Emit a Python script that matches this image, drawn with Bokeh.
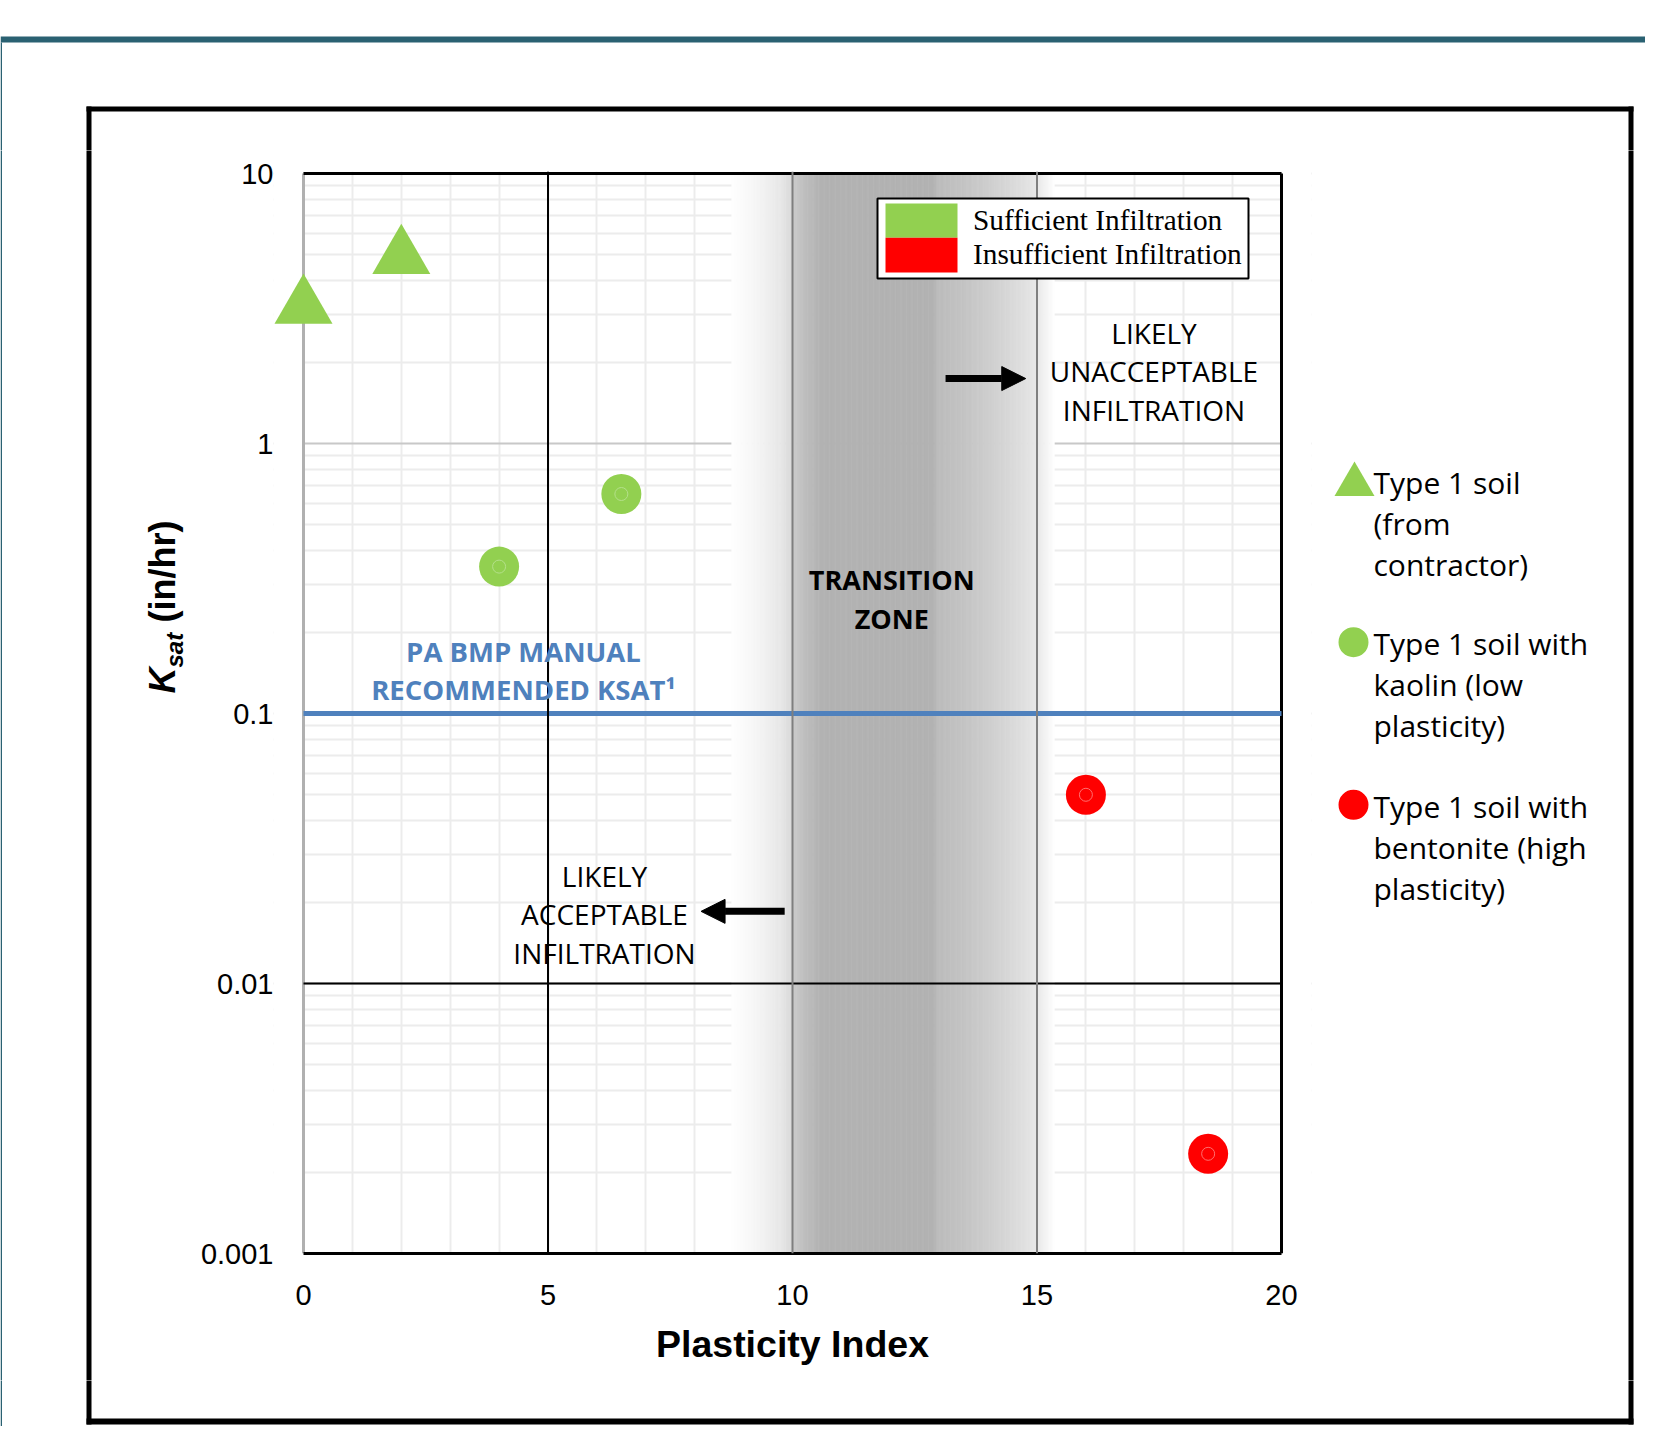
import math
import numpy as np
from bokeh.plotting import figure
from bokeh.layouts import column, row
from bokeh.models import (Range1d, FixedTicker, PrintfTickFormatter, Span, Label,
                          BoxAnnotation, Arrow, NormalHead)
from bokeh.embed import file_html
from bokeh.resources import INLINE

# ---------------- data ----------------
type1_pi = [0, 2]
type1_ksat = [3.2, 4.9]
kaolin_pi = [4, 6.5]
kaolin_ksat = [0.35, 0.65]
bentonite_pi = [16, 18.5]
bentonite_ksat = [0.05, 0.00234]

series_lines = [
    ["Type 1 soil", "(from", "contractor)"],
    ["Type 1 soil with", "kaolin (low", "plasticity)"],
    ["Type 1 soil with", "bentonite (high", "plasticity)"],
]
infil_labels = ["Sufficient Infiltration", "Insufficient Infiltration"]

x_ticks = [0, 5, 10, 15, 20]
x_minor = list(range(0, 21))
y_ticks = [0.001, 0.01, 0.1, 1, 10]
y_minor = [m * 10.0 ** e for e in range(-3, 1) for m in range(2, 10)]

ksat_recommended = 0.1
transition_from, transition_to = 10, 15

# arrows (data coords)
arrow_right_x = [13.13, 14.77]
arrow_right_y = 1.74
arrow_left_x = [9.84, 8.13]
arrow_left_y = 0.0185

# ---------------- style ----------------
GREEN = "#92d050"
RED = "#ff0000"
BLUE = "#4f81bd"
TEAL = "#2a6172"

zone_stop_x = [8.75, 9.25, 9.75, 9.99, 10.0, 10.25, 10.6, 12.9, 12.95, 13.5, 14.0, 14.5, 15.0, 15.35]
zone_stop_gray = [255, 246, 232, 218, 204, 190, 178, 178, 188, 196, 206, 218, 232, 255]

# page layout (pixels)
W, H = 1645, 1426
TOP_H = 150          # top strip height
BOT_Y = 1380         # y where bottom strip starts
LEFT_W = 195         # left strip width
MAIN_R = 1320        # main figure right edge
X0_PX, X20_PX = 303, 1281          # where x=0 and x=20 sit
Y10_PX, Y0001_PX = 173, 1253       # where y=10 and y=0.001 sit
PAD_X = 30                         # frame margin left of x=0 and right of x=20
FRAME_L, FRAME_R, FRAME_T = X0_PX - PAD_X, X20_PX + PAD_X, 171

px_per_x = (X20_PX - X0_PX) / (x_ticks[-1] - x_ticks[0])
px_per_dec = (Y0001_PX - Y10_PX) / 4.0
x_lo = x_ticks[0] - PAD_X / px_per_x
x_hi = x_ticks[-1] + PAD_X / px_per_x
y_hi = 10 ** (1 + (Y10_PX - FRAME_T) / px_per_dec)

# text baseline correction (bokeh draws alphabetic text a bit low)
CORR = {"Open Sans": 0.37, "Liberation Serif": 0.37, "Liberation Sans": 0.27}


def no_align(f):
    try:
        f.frame_align = False
    except Exception:
        pass


# ---------------- main figure ----------------
MW, MH = MAIN_R - LEFT_W, BOT_Y - TOP_H
p = figure(width=MW, height=MH, output_backend="svg", toolbar_location=None, title=None,
           y_axis_type="log", x_range=Range1d(x_lo, x_hi), y_range=Range1d(y_ticks[0], y_hi),
           min_border_left=FRAME_L - LEFT_W, min_border_top=FRAME_T - TOP_H,
           min_border_right=MAIN_R - FRAME_R, min_border_bottom=BOT_Y - Y0001_PX)
no_align(p)
p.outline_line_color = None
p.background_fill_color = "white"
p.border_fill_color = "white"

p.xgrid.ticker = FixedTicker(ticks=x_minor)
p.xgrid.grid_line_color = "#ececec"
p.xgrid.grid_line_width = 2
p.ygrid.ticker = FixedTicker(ticks=y_ticks, minor_ticks=y_minor)
p.ygrid.grid_line_color = "#c8c8c8"
p.ygrid.grid_line_width = 2
p.ygrid.minor_grid_line_color = "#ececec"
p.ygrid.minor_grid_line_width = 2

p.xaxis.ticker = FixedTicker(ticks=x_ticks)
p.yaxis.ticker = FixedTicker(ticks=y_ticks)
p.yaxis.formatter = PrintfTickFormatter(format="%g")
for ax in (p.xaxis[0], p.yaxis[0]):
    ax.major_tick_out = 0
    ax.major_tick_in = 0
    ax.minor_tick_out = 0
    ax.minor_tick_in = 0
    ax.major_label_text_font = "Liberation Sans"
    ax.major_label_text_font_size = "29px"
    ax.major_label_text_color = "black"
p.xaxis.bounds = (x_ticks[0], x_ticks[-1])
p.xaxis.axis_line_color = "black"
p.xaxis.axis_line_width = 3
p.yaxis.axis_line_color = None
p.xaxis.major_label_standoff = 31
p.yaxis.major_label_standoff = 0
p.xaxis.axis_label = "Plasticity Index"
p.xaxis.axis_label_text_font = "Liberation Sans"
p.xaxis.axis_label_text_font_style = "bold"
p.xaxis.axis_label_text_font_size = "37.5px"
p.xaxis.axis_label_text_color = "black"
p.xaxis.axis_label_standoff = 15

# transition band shading
edges = np.arange(zone_stop_x[0], zone_stop_x[-1] + 1e-9, 0.025)
mids = (edges[:-1] + edges[1:]) / 2
grays = np.interp(mids, zone_stop_x, zone_stop_gray)
band_colors = ["#%02x%02x%02x" % (int(g), int(g), int(g)) for g in grays]
p.quad(left=edges[:-1], right=edges[1:] + 0.012, bottom=y_ticks[0], top=y_ticks[-1],
       fill_color=band_colors, line_color=None)

# blank margins left of x=0 and right of x=20 (room for the marker at x=0)
p.quad(left=[x_lo, x_ticks[-1]], right=[x_ticks[0], x_hi], bottom=[y_ticks[0]] * 2,
       top=[y_hi] * 2, fill_color="white", line_color=None)

# plot borders and reference lines
p.segment(x0=[x_ticks[0]], y0=[y_ticks[0]], x1=[x_ticks[0]], y1=[y_ticks[-1]],
          line_color="#b0b0b0", line_width=3)
p.segment(x0=[x_ticks[0]], y0=[y_ticks[-1]], x1=[x_ticks[-1]], y1=[y_ticks[-1]],
          line_color="black", line_width=3)
p.segment(x0=[x_ticks[-1]], y0=[y_ticks[0]], x1=[x_ticks[-1]], y1=[y_ticks[-1]],
          line_color="black", line_width=3)
p.segment(x0=[x_ticks[0]], y0=[0.01], x1=[x_ticks[-1]], y1=[0.01],
          line_color="black", line_width=2)
p.segment(x0=[x_ticks[0]], y0=[ksat_recommended], x1=[x_ticks[-1]], y1=[ksat_recommended],
          line_color=BLUE, line_width=5)

# data
p.scatter(type1_pi, type1_ksat, marker="triangle", size=58, fill_color=GREEN, line_color=None)
p.scatter(kaolin_pi, kaolin_ksat, marker="circle", size=40, fill_color=GREEN, line_color=None)
p.scatter(bentonite_pi, bentonite_ksat, marker="circle", size=40, fill_color=RED, line_color=None)
# faint inner ring of the round markers
p.scatter(kaolin_pi, kaolin_ksat, marker="circle", size=13, fill_color=None,
          line_color="#b4e08a", line_width=1)
p.scatter(bentonite_pi, bentonite_ksat, marker="circle", size=13, fill_color=None,
          line_color="#ff7070", line_width=1)

p.add_layout(Span(location=5, dimension="height", line_color="black", line_width=2))
p.add_layout(Span(location=transition_from, dimension="height", line_color="#7f7f7f", line_width=2))
p.add_layout(Span(location=transition_to, dimension="height", line_color="#7f7f7f", line_width=2))

p.add_layout(Arrow(end=NormalHead(size=24, fill_color="black", line_color="black"),
                   x_start=arrow_right_x[0], y_start=arrow_right_y,
                   x_end=arrow_right_x[1], y_end=arrow_right_y,
                   line_width=7, line_color="black"))
p.add_layout(Arrow(end=NormalHead(size=24, fill_color="black", line_color="black"),
                   x_start=arrow_left_x[0], y_start=arrow_left_y,
                   x_end=arrow_left_x[1], y_end=arrow_left_y,
                   line_width=7, line_color="black"))


def msx(X):
    return X - FRAME_L


def msy(Y):
    return Y0001_PX - Y


def mlab(text, X, Y, size, font="Open Sans", style="normal", color="black", align="left"):
    Y = Y - CORR[font] * size
    p.add_layout(Label(text=text, x=msx(X), y=msy(Y), x_units="screen", y_units="screen",
                       text_font=font, text_font_style=style, text_font_size="%.1fpx" % size,
                       text_color=color, text_align=align, text_baseline="alphabetic"))


def mbox(left, right, top, bottom, fill, line=None, lw=0):
    p.add_layout(BoxAnnotation(left=msx(left), right=msx(right), top=msy(top), bottom=msy(bottom),
                               left_units="screen", right_units="screen",
                               top_units="screen", bottom_units="screen",
                               fill_color=fill, fill_alpha=1.0,
                               line_color=line, line_width=lw, line_alpha=1.0,
                               line_dash="solid"))


for i, t in enumerate(["LIKELY", "UNACCEPTABLE", "INFILTRATION"]):
    mlab(t, 1153.5, 342.7 + i * 38.6, 28, align="center")
for i, t in enumerate(["LIKELY", "ACCEPTABLE", "INFILTRATION"]):
    mlab(t, 604, 885.7 + i * 38.5, 28, align="center")
for i, t in enumerate(["TRANSITION", "ZONE"]):
    mlab(t, 891.3, 589 + i * 39.3, 27, style="bold", align="center")
for i, t in enumerate(["PA BMP MANUAL", "RECOMMENDED KSAT\u00b9"]):
    mlab(t, 523, 661 + i * 38, 27.5, style="bold", color=BLUE, align="center")

mbox(877, 1248, 198, 278, "white", "black", 2)
mbox(885, 957, 203, 237.3, GREEN)
mbox(885, 957, 237.3, 272, RED)
mlab(infil_labels[0], 972.5, 230, 29.3, font="Liberation Serif")
mlab(infil_labels[1], 972.5, 264.3, 29.3, font="Liberation Serif")


# ---------------- surrounding strips (pixel coordinates) ----------------
def strip(x0, x1, y0, y1):
    f = figure(width=x1 - x0, height=y1 - y0, output_backend="svg", toolbar_location=None,
               title=None, x_range=Range1d(x0, x1), y_range=Range1d(y1, y0),
               x_axis_location=None, y_axis_location=None,
               min_border=0, min_border_left=0, min_border_right=0,
               min_border_top=0, min_border_bottom=0)
    no_align(f)
    f.outline_line_color = None
    f.grid.visible = False
    f.background_fill_color = "white"
    f.border_fill_color = "white"
    return f


def rect(f, l, r, t, b, color):
    f.quad(left=[l], right=[r], top=[t], bottom=[b], fill_color=color, line_color=None)


def slab(f, text, X, Y, size, font="Open Sans", style="normal", angle=0.0):
    c = CORR[font] * size
    if angle:
        X = X - c
    else:
        Y = Y - c
    f.add_layout(Label(text=text, x=X, y=Y, text_font=font, text_font_style=style,
                       text_font_size="%.1fpx" % size, text_color="black",
                       text_align="left", text_baseline="alphabetic", angle=angle))


FL_L, FL_R = 86, 91          # outer frame left line
FR_L, FR_R = 1628, 1633      # outer frame right line
FT_T, FT_B = 106, 111        # outer frame top line
FB_T, FB_B = 1418, 1424      # outer frame bottom line
OV = 3                       # overlap past strip edges

top = strip(0, W, 0, TOP_H)
rect(top, 0, W, 36, 42, TEAL)
rect(top, 0, 1.5, 42, TOP_H + OV, TEAL)
rect(top, FL_L, FR_R, FT_T, FT_B, "black")
rect(top, FL_L, FL_R, FT_T, TOP_H + OV, "black")
rect(top, FR_L, FR_R, FT_T, TOP_H + OV, "black")

left = strip(0, LEFT_W, TOP_H, BOT_Y)
rect(left, 0, 1.5, TOP_H - OV, BOT_Y + OV, TEAL)
rect(left, FL_L, FL_R, TOP_H - OV, BOT_Y + OV, "black")
slab(left, "K", 172, 693, 36, font="Liberation Sans", style="bold italic", angle=math.pi / 2)
slab(left, "sat", 180, 667, 24, font="Liberation Sans", style="bold italic", angle=math.pi / 2)
slab(left, "(in/hr)", 172, 622, 36, font="Liberation Sans", style="bold", angle=math.pi / 2)

right = strip(MAIN_R, W, TOP_H, BOT_Y)
rect(right, FR_L, FR_R, TOP_H - OV, BOT_Y + OV, "black")
right.scatter([1354], [484], marker="triangle", size=40, fill_color=GREEN, line_color=None)
right.scatter([1353, 1353], [641.7, 804.3], marker="circle", size=30,
              fill_color=[GREEN, RED], line_color=None)
for base, lines in zip([493.3, 654, 816.7], series_lines):
    for i, t in enumerate(lines):
        slab(right, t, 1373, base + i * 41, 30)

bottom = strip(0, W, BOT_Y, H)
rect(bottom, 0, 1.5, BOT_Y - OV, H, TEAL)
rect(bottom, FL_L, FL_R, BOT_Y - OV, FB_B, "black")
rect(bottom, FR_L, FR_R, BOT_Y - OV, FB_B, "black")
rect(bottom, FL_L, FR_R, FB_T, FB_B, "black")

layout = column(top, row(left, p, right), bottom)
open("out.html", "w").write(file_html(layout, INLINE))
